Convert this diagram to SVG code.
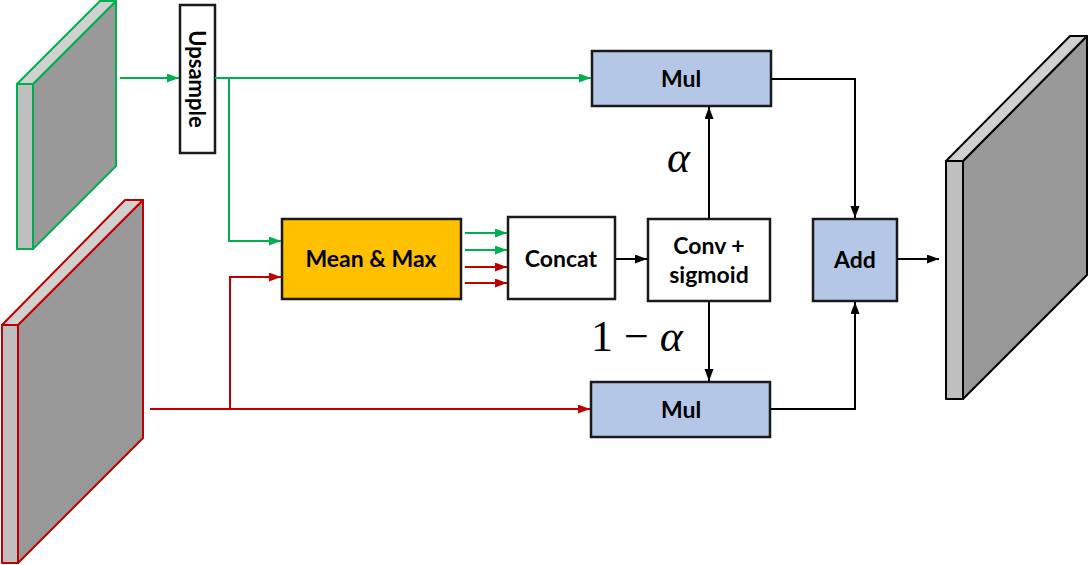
<svg xmlns="http://www.w3.org/2000/svg" width="1090" height="565" viewBox="0 0 1090 565">
<style>
.box{stroke:#1a1a1a;stroke-width:2.5}
.lbl{font-family:Lato,"Open Sans",sans-serif;font-weight:bold;font-size:23px;fill:#000;text-anchor:middle}
.math{font-family:"Liberation Serif","DejaVu Serif",serif;font-size:44px;fill:#000}
.g{stroke:#00B050;stroke-width:2;fill:none}
.r{stroke:#C00000;stroke-width:2;fill:none}
.k{stroke:#000;stroke-width:2;fill:none}
.strip{fill:#BFBFBF}
.top{fill:#D0D0D0}
.face{fill:#999999}
</style>
<defs>
<marker id="ag" markerUnits="userSpaceOnUse" markerWidth="13" markerHeight="10" refX="12" refY="4.5" orient="auto"><path d="M0,0 L12,4.5 L0,9 z" fill="#00B050"/></marker>
<marker id="ar" markerUnits="userSpaceOnUse" markerWidth="13" markerHeight="10" refX="12" refY="4.5" orient="auto"><path d="M0,0 L12,4.5 L0,9 z" fill="#C00000"/></marker>
<marker id="ak" markerUnits="userSpaceOnUse" markerWidth="13" markerHeight="10" refX="12" refY="4.5" orient="auto"><path d="M0,0 L12,4.5 L0,9 z" fill="#000"/></marker>
</defs>

<g id="input-green" stroke="#00B050" stroke-width="2" stroke-linejoin="round">
<polygon class="face" points="33,84 116,1 116,166 33,249"/>
<polygon class="top" points="17,84 100,1 116,1 33,84"/>
<rect class="strip" x="17" y="84" width="16" height="165"/>
</g>

<g id="input-red" stroke="#C00000" stroke-width="2" stroke-linejoin="round">
<polygon class="face" points="18,325 143,200 143,438 18,563"/>
<polygon class="top" points="2,325 125,200 143,200 18,325"/>
<rect class="strip" x="2" y="325" width="16" height="238"/>
</g>

<g id="output" stroke="#000" stroke-width="2" stroke-linejoin="round">
<polygon class="face" points="963,161 1087,36 1087,275 963,399"/>
<polygon class="top" points="946,161 1070,36 1087,36 963,161"/>
<rect class="strip" x="946" y="161" width="17" height="238"/>
</g>

<g id="upsample">
<rect class="box" x="180" y="5" width="35" height="148" fill="#fff"/>
<text class="lbl" transform="translate(197,79) rotate(90)" y="8" style="font-size:22px">Upsample</text>
</g>

<g id="meanmax">
<rect class="box" x="282" y="219" width="179" height="80" fill="#FFC000"/>
<text class="lbl" x="371" y="267">Mean &amp; Max</text>
</g>

<g id="concat">
<rect class="box" x="508" y="217" width="107" height="82" fill="#fff"/>
<text class="lbl" x="561" y="267">Concat</text>
</g>

<g id="conv">
<rect class="box" x="648" y="219" width="122" height="82" fill="#fff"/>
<text class="lbl" x="709" y="254">Conv +</text>
<text class="lbl" x="709" y="283">sigmoid</text>
</g>

<g id="mul-top">
<rect class="box" x="592" y="51" width="179" height="55" fill="#B4C7E7"/>
<text class="lbl" x="681" y="87">Mul</text>
</g>

<g id="mul-bottom">
<rect class="box" x="591" y="382" width="179" height="55" fill="#B4C7E7"/>
<text class="lbl" x="681" y="418">Mul</text>
</g>

<g id="add">
<rect class="box" x="813" y="219" width="84" height="82" fill="#B4C7E7"/>
<text class="lbl" x="855" y="268">Add</text>
</g>

<g id="connectors">
<path class="g" d="M120,78 H179" marker-end="url(#ag)"/>
<path class="g" d="M215,78 H591" marker-end="url(#ag)"/>
<path class="g" d="M229,78 V241 H281" marker-end="url(#ag)"/>
<path class="g" d="M465,233 H507" marker-end="url(#ag)"/>
<path class="g" d="M465,250 H507" marker-end="url(#ag)"/>
<path class="r" d="M150,409 H590" marker-end="url(#ar)"/>
<path class="r" d="M230,409 V277 H281" marker-end="url(#ar)"/>
<path class="r" d="M465,267 H507" marker-end="url(#ar)"/>
<path class="r" d="M465,283 H507" marker-end="url(#ar)"/>
<path class="k" d="M616,259 H647" marker-end="url(#ak)"/>
<path class="k" d="M709,218 V107" marker-end="url(#ak)"/>
<path class="k" d="M709,301 V381" marker-end="url(#ak)"/>
<path class="k" d="M771,79 H855 V218" marker-end="url(#ak)"/>
<path class="k" d="M770,409 H855 V302" marker-end="url(#ak)"/>
<path class="k" d="M897,259 H939" marker-end="url(#ak)"/>
</g>

<g id="labels">
<text class="math" x="667" y="172" font-style="italic">α</text>
<text class="math" x="591" y="351">1 − <tspan font-style="italic">α</tspan></text>
</g>
</svg>
